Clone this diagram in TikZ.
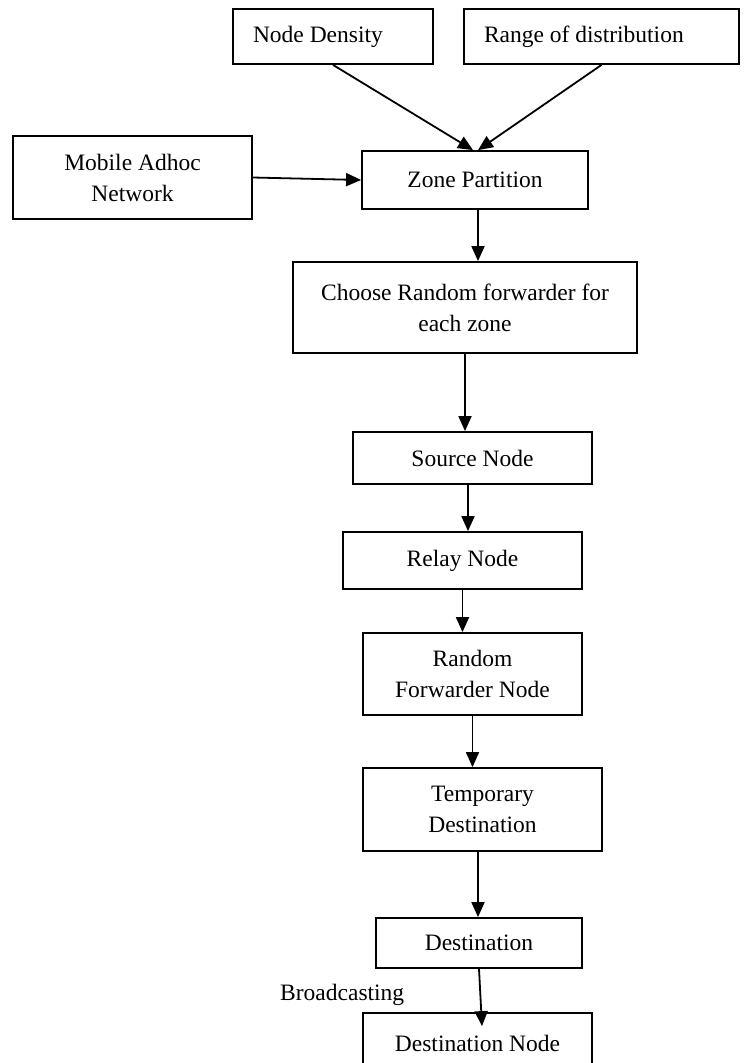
\documentclass[tikz,border=0pt]{standalone}
\usepackage{fontspec}
\setmainfont{Liberation Serif}
\usetikzlibrary{arrows.meta}
\begin{document}
\begin{tikzpicture}[x=1pt,y=-1pt,
  box/.style={draw, line width=1.8pt, inner sep=0pt, align=center,
    font=\fontsize{23.5}{31}\selectfont},
  flow/.style={line width=1.8pt, -{Triangle[length=15pt,width=13pt]}},
  lbl/.style={inner sep=0pt, font=\fontsize{23.5}{31}\selectfont}]
\clip (0,0) rectangle (749,1063);
\useasboundingbox (0,0) rectangle (749,1063);
\node[box, minimum width=200, minimum height=55, text width=160, align=flush left] (nd) at (333,36.5) {Node Density};
\node[box, minimum width=275, minimum height=55, text width=235, align=flush left] (rd) at (601.5,36.5) {Range of distribution};
\node[box, minimum width=239, minimum height=83] (man) at (132.5,177.5) {Mobile Adhoc\\Network};
\node[box, minimum width=226, minimum height=58] (zp) at (475,180) {Zone Partition};
\node[box, minimum width=344, minimum height=91] (crf) at (465,307.5) {Choose Random forwarder for\\each zone};
\node[box, minimum width=239, minimum height=52] (sn) at (472.5,458) {Source Node};
\node[box, minimum width=239, minimum height=57] (rn) at (462.5,560.5) {Relay Node};
\node[box, minimum width=219, minimum height=82] (rfn) at (472.5,674) {Random\\Forwarder Node};
\node[box, minimum width=239, minimum height=83] (td) at (482.5,809.5) {Temporary\\Destination};
\node[box, minimum width=206, minimum height=50] (dst) at (479,943) {Destination};
\node[box, minimum width=229, minimum height=60] (dn) at (477.5,1043) {Destination Node};
\node[lbl, anchor=base west] (bc) at (280,1000) {Broadcasting};

\draw[flow] (nd.south) -- ([xshift=-2pt]zp.north);
\draw[flow] (rd.south) -- ([xshift=3pt]zp.north);
\draw[flow] (man.east) -- (zp.west);
\draw[flow] ([xshift=3pt]zp.south) -- ([xshift=3pt]zp.south |- crf.north);
\draw[flow] (crf.south) -- (crf.south |- sn.north);
\draw[flow] ([xshift=-4.5pt]sn.south) -- ([xshift=-4.5pt]sn.south |- rn.north);
\draw[flow] (rn.south) -- (rn.south |- rfn.north);
\draw[flow] (rfn.south) -- (rfn.south |- td.north);
\draw[flow] ([xshift=-4.5pt]td.south) -- ([xshift=-4.5pt]td.south |- dst.north);
\draw[flow] (dst.south) -- ([xshift=4.5pt,yshift=-14pt]dn.north);
\end{tikzpicture}
\end{document}
